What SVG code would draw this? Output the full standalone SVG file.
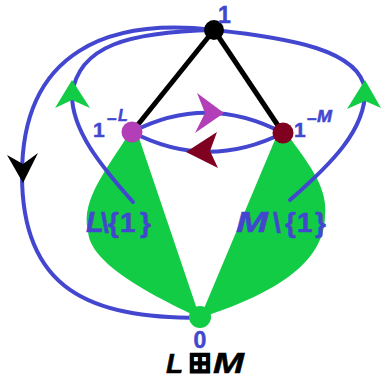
<svg xmlns="http://www.w3.org/2000/svg" width="381" height="378" viewBox="0 0 381 378">
<style>
.blue{fill:none;stroke:#4347CF;stroke-width:4;stroke-linecap:round}
.blk{fill:none;stroke:#000;stroke-width:5}
.region{fill:#11CC44}
.lbl{font-family:"Liberation Sans",Arial,sans-serif;font-weight:bold;fill:#4347CF;stroke:#4347CF;stroke-width:0.5}
.it{font-style:italic}
.ttl{font-family:"Liberation Sans",Arial,sans-serif;font-weight:bold;font-style:italic;fill:#000;stroke:#000;stroke-width:0.5}
</style>
<rect width="381" height="378" fill="#fff"/>
<g id="regions">
<path id="region-L" class="region" d="M128,135 C110,165 80,200 88,230 C88,260 140,290 200,318 L138,135 Z"/>
<path id="region-M" class="region" d="M288,135 C305,160 328,185 325,215 C325,265 270,295 200,318 L277,135 Z"/>
</g>
<g id="connectors">
<line class="blk" x1="214" y1="30" x2="132" y2="132"/>
<line class="blk" x1="214" y1="30" x2="283" y2="133"/>
<path class="blue" d="M214,30 C110,18 22,50 22,175 C22,290 90,318 200,318"/>
<path class="blue" d="M214,30 C130,32 78,45 72,95 C72,130 100,165 133,202"/>
<path class="blue" d="M214,30 C290,38 360,50 365,90 C366,130 330,165 290,200"/>
<path class="blue" d="M132,132 Q207,93 283,133"/>
<path class="blue" d="M283,133 Q207,171 132,132"/>
<path d="M23,183 L7,155 L23,164 L38,153 Z" fill="#000"/>
<path d="M72,80 L55,108 L72,100 L90,108 Z" fill="#11CC44"/>
<path d="M365,80 L347,109 L365,101 L381,108 Z" fill="#11CC44"/>
<path d="M224,113 L197,93 L205,113 L195,133 Z" fill="#B23FB8"/>
<path d="M186,152 L217,132 L210,151 L218,168 Z" fill="#80001F"/>
</g>
<g id="node-1">
<circle cx="214" cy="30" r="10" fill="#000"/>
<text class="lbl" x="218" y="23" font-size="23">1</text>
</g>
<g id="node-1L">
<circle cx="132" cy="132" r="10.5" fill="#B23FB8"/>
<text class="lbl" x="93" y="137" font-size="21">1</text>
<text class="lbl" x="107" y="125" font-size="17">−</text>
<text class="lbl it" x="118" y="121" font-size="16">L</text>
</g>
<g id="node-1M">
<circle cx="283" cy="133" r="10.5" fill="#80001F"/>
<text class="lbl" x="294" y="137" font-size="21">1</text>
<text class="lbl" x="307" y="125" font-size="17">−</text>
<text class="lbl it" x="317" y="122" font-size="16" textLength="15" lengthAdjust="spacingAndGlyphs">M</text>
</g>
<g id="node-0">
<circle cx="200" cy="317" r="11" fill="#11CC44"/>
<text class="lbl" x="200" y="348" font-size="23" text-anchor="middle">0</text>
</g>
<g id="label-L">
<text class="lbl it" x="86" y="232" font-size="29">L</text>
<text class="lbl" x="101 108 120 140" y="232" font-size="28">\{1}</text>
</g>
<g id="label-M">
<text class="lbl it" x="236" y="232" font-size="30" textLength="32" lengthAdjust="spacingAndGlyphs">M</text>
<text class="lbl" x="273 285 297 315" y="232" font-size="28">\{1}</text>
</g>
<g id="title">
<text class="ttl" x="166" y="373" font-size="28">L</text>
<text x="200" y="372" font-family="DejaVu Sans,sans-serif" font-weight="bold" font-size="28" text-anchor="middle" fill="#000" stroke="#000" stroke-width="1.4">⊞</text>
<text class="ttl" x="213" y="373" font-size="30" textLength="31" lengthAdjust="spacingAndGlyphs">M</text>
</g>
</svg>
